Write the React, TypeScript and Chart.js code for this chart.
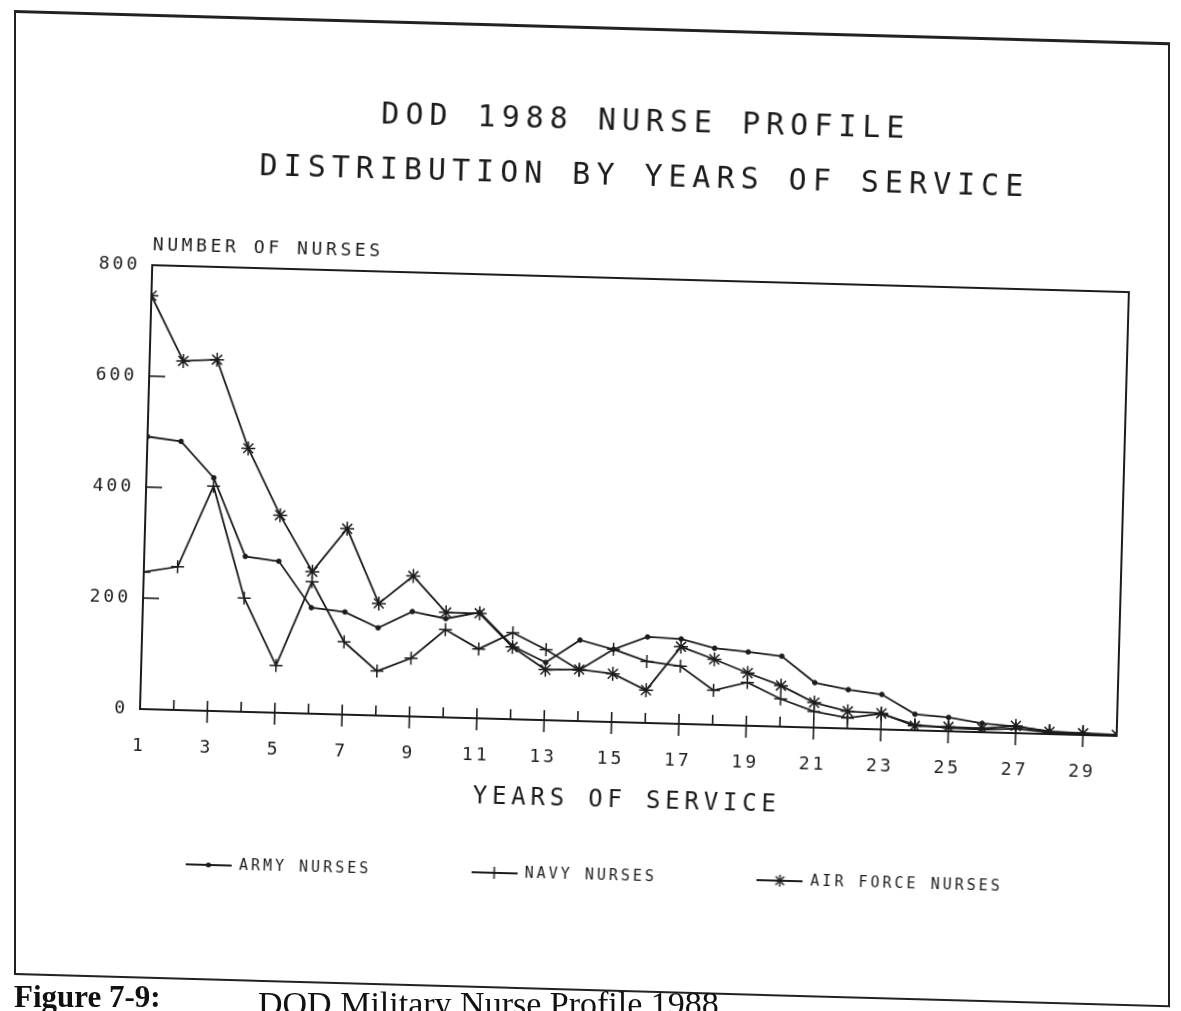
import React, { useEffect, useRef } from "react";
import { Chart, registerables } from "chart.js";

Chart.register(...registerables);

// ---------- data ----------
const years = [1, 2, 3, 4, 5, 6, 7, 8, 9, 10, 11, 12, 13, 14, 15, 16, 17, 18, 19, 20, 21, 22, 23, 24, 25, 26, 27, 28, 29, 30];
const armyNurses = [491, 484, 420, 280, 273, 191, 185, 158, 189, 178, 191, 132, 104, 146, 131, 155, 153, 138, 133, 127, 81, 70, 63, 29, 25, 16, 12, 5, 3, 2];
const navyNurses = [247, 258, 405, 205, 85, 238, 131, 80, 105, 158, 125, 156, 127, 92, 131, 111, 104, 62, 78, 50, 29, 19, 28, 10, 6, 5, 8, 3, 2, 1];
const airForceNurses = [745, 629, 633, 475, 356, 256, 335, 202, 253, 189, 189, 130, 91, 93, 87, 59, 139, 118, 95, 74, 45, 31, 29, 8, 8, 7, 13, 4, 3, 2];
const seriesNames = ["ARMY NURSES", "NAVY NURSES", "AIR FORCE NURSES"];
const yTickValues = [0, 200, 400, 600, 800];
const xTickLabels = ["1", "3", "5", "7", "9", "11", "13", "15", "17", "19", "21", "23", "25", "27", "29"];
const titleLines = ["DOD 1988 NURSE PROFILE", "DISTRIBUTION BY YEARS OF SERVICE"];
const yAxisTitle = "NUMBER OF NURSES";
const xAxisTitle = "YEARS OF SERVICE";
const captionLabel = "Figure 7-9:";
const captionText = "DOD Military Nurse Profile 1988";

const INK = "#1c1c1c";
const MONO = "'DejaVu Sans Mono', 'Liberation Mono', monospace";

function makeIcon(kind: string): HTMLCanvasElement {
  const c = document.createElement("canvas");
  c.width = 46;
  c.height = 16;
  const g = c.getContext("2d")!;
  g.strokeStyle = INK;
  g.fillStyle = INK;
  g.lineWidth = 2;
  g.beginPath();
  g.moveTo(0, 8);
  g.lineTo(46, 8);
  g.stroke();
  g.lineWidth = 1.5;
  if (kind === "dot") {
    g.beginPath();
    g.arc(23, 8, 2.5, 0, Math.PI * 2);
    g.fill();
  } else if (kind === "cross") {
    g.beginPath();
    g.moveTo(23, 2);
    g.lineTo(23, 14);
    g.stroke();
  } else {
    const r = 6;
    for (let k = 0; k < 4; k++) {
      const a = (k * Math.PI) / 4;
      g.beginPath();
      g.moveTo(23 - r * Math.cos(a), 8 - r * Math.sin(a));
      g.lineTo(23 + r * Math.cos(a), 8 + r * Math.sin(a));
      g.stroke();
    }
  }
  return c;
}

function spacedText(ctx: any, text: string, x: number, y: number, size: number, spacing: number, align: string) {
  ctx.save();
  ctx.font = `${size}px ${MONO}`;
  ctx.letterSpacing = `${spacing}px`;
  ctx.textAlign = align;
  ctx.textBaseline = "middle";
  ctx.fillStyle = INK;
  const w = align === "center" ? spacing / 2 : 0;
  ctx.fillText(text, x + w, y);
  ctx.restore();
}

const decorPlugin = {
  id: "decor",
  beforeUpdate(chart: any) {
    chart.ctx.letterSpacing = "3px";
  },
  beforeDraw(chart: any) {
    chart.ctx.letterSpacing = "3px";
  },
  afterDraw(chart: any) {
    const { ctx, chartArea: a, scales } = chart;
    const xs = scales.x;
    const ys = scales.y;
    ctx.save();
    ctx.strokeStyle = INK;
    ctx.lineWidth = 2;
    ctx.beginPath();
    ctx.moveTo(a.left, a.top);
    ctx.lineTo(a.right, a.top);
    ctx.lineTo(a.right, a.bottom);
    ctx.stroke();
    ctx.lineWidth = 1.6;
    for (const v of years) {
      if (v === 1 || v === 30) continue;
      const px = xs.getPixelForValue(v);
      const major = xTickLabels.includes(String(v));
      ctx.beginPath();
      ctx.moveTo(px, a.bottom - 10);
      ctx.lineTo(px, a.bottom + (major ? 12 : 0));
      ctx.stroke();
    }
    for (const v of yTickValues) {
      if (v === 0 || v === 800) continue;
      const py = ys.getPixelForValue(v);
      ctx.beginPath();
      ctx.moveTo(a.left, py);
      ctx.lineTo(a.left + 16, py);
      ctx.stroke();
    }
    ctx.restore();
    const cx = (a.left + a.right) / 2 - 2;
    spacedText(ctx, titleLines[0], cx, a.top - 156, 30, 6, "center");
    spacedText(ctx, titleLines[1], cx, a.top - 101, 30, 6, "center");
    spacedText(ctx, yAxisTitle, a.left, a.top - 20, 18, 3.6, "left");
    spacedText(ctx, xAxisTitle, cx, a.bottom + 79, 24, 4.8, "center");
  },
};

export default function App() {
  const ref = useRef<HTMLCanvasElement>(null);

  useEffect(() => {
    if (!ref.current) return;
    const icons = [makeIcon("dot"), makeIcon("cross"), makeIcon("star")];
    const toPts = (vals: number[]) => years.map((yr, i) => ({ x: yr, y: vals[i] }));
    const common = {
      borderColor: INK,
      backgroundColor: INK,
      borderWidth: 1.8,
      tension: 0,
      fill: false,
      pointBorderColor: INK,
      pointBackgroundColor: INK,
    };
    const chart = new Chart(ref.current, {
      type: "line",
      data: {
        datasets: [
          { ...common, label: seriesNames[0], data: toPts(armyNurses), pointStyle: "circle", pointRadius: 2.3, pointBorderWidth: 1 },
          { ...common, label: seriesNames[1], data: toPts(navyNurses), pointStyle: "cross", pointRadius: 6.5, pointBorderWidth: 1.5 },
          { ...common, label: seriesNames[2], data: toPts(airForceNurses), pointStyle: "star", pointRadius: 7, pointBorderWidth: 1.5 },
        ],
      },
      options: {
        animation: false,
        responsive: false,
        devicePixelRatio: 1,
        layout: { padding: { top: 255, left: 66, right: 53, bottom: 94.5 } },
        plugins: {
          title: { display: false },
          tooltip: { enabled: false },
          legend: {
            display: true,
            position: "bottom",
            align: "center",
            labels: {
              color: INK,
              font: { family: MONO, size: 15 },
              padding: 100,
              usePointStyle: true,
              pointStyleWidth: 46,
              generateLabels: (c: any) =>
                c.data.datasets.map((ds: any, i: number) => ({
                  text: ds.label,
                  pointStyle: icons[i],
                  fillStyle: INK,
                  strokeStyle: INK,
                  lineWidth: 0,
                  fontColor: INK,
                  hidden: false,
                  datasetIndex: i,
                })),
            },
          },
        },
        scales: {
          x: {
            type: "linear",
            min: 1,
            max: 30,
            afterFit: (s: any) => {
              s.height = 46.5;
            },
            grid: { display: false, drawTicks: false },
            border: { display: true, color: INK, width: 2 },
            ticks: {
              stepSize: 1,
              autoSkip: false,
              maxRotation: 0,
              padding: 27,
              color: INK,
              font: { family: MONO, size: 18 },
              callback: (v: any) => (xTickLabels.includes(String(v)) ? String(v) : ""),
            },
          },
          y: {
            type: "linear",
            min: 0,
            max: 800,
            afterFit: (s: any) => {
              s.width = 60;
            },
            grid: { display: false, drawTicks: false },
            border: { display: true, color: INK, width: 2 },
            ticks: {
              stepSize: 200,
              padding: 12,
              color: INK,
              font: { family: MONO, size: 18 },
              callback: (v: any) => (yTickValues.includes(Number(v)) ? String(v) : ""),
            },
          },
        },
      },
      plugins: [decorPlugin],
    } as any);
    return () => chart.destroy();
  }, []);

  return (
    <div style={{ position: "fixed", inset: 0, overflow: "hidden", background: "#fff" }}>
      <div
        style={{
          position: "absolute",
          left: 14,
          top: 10,
          width: 1156,
          height: 965,
          boxSizing: "border-box",
          borderTop: "3px solid #222",
          borderLeft: "2px solid #222",
          borderRight: "2px solid #222",
          borderBottom: "2px solid #222",
          transform: "skewY(1.6deg)",
          transformOrigin: "0 0",
        }}
      />
      <canvas
        ref={ref}
        width={1156}
        height={965}
        style={{
          position: "absolute",
          left: 14,
          top: 10,
          width: 1156,
          height: 965,
          transform: "rotate(1.58deg)",
          transformOrigin: "126px 699px",
        }}
      />
      <div
        style={{
          position: "absolute",
          left: 14,
          top: 981,
          fontFamily: "'Liberation Serif', 'DejaVu Serif', serif",
          fontWeight: "bold",
          fontSize: 31,
          lineHeight: 1,
          color: "#111",
          whiteSpace: "nowrap",
        }}
      >
        {captionLabel}
      </div>
      <div
        style={{
          position: "absolute",
          left: 258,
          top: 987,
          fontFamily: "'Liberation Serif', 'DejaVu Serif', serif",
          fontSize: 34,
          lineHeight: 1,
          color: "#111",
          whiteSpace: "nowrap",
        }}
      >
        {captionText}
      </div>
    </div>
  );
}
